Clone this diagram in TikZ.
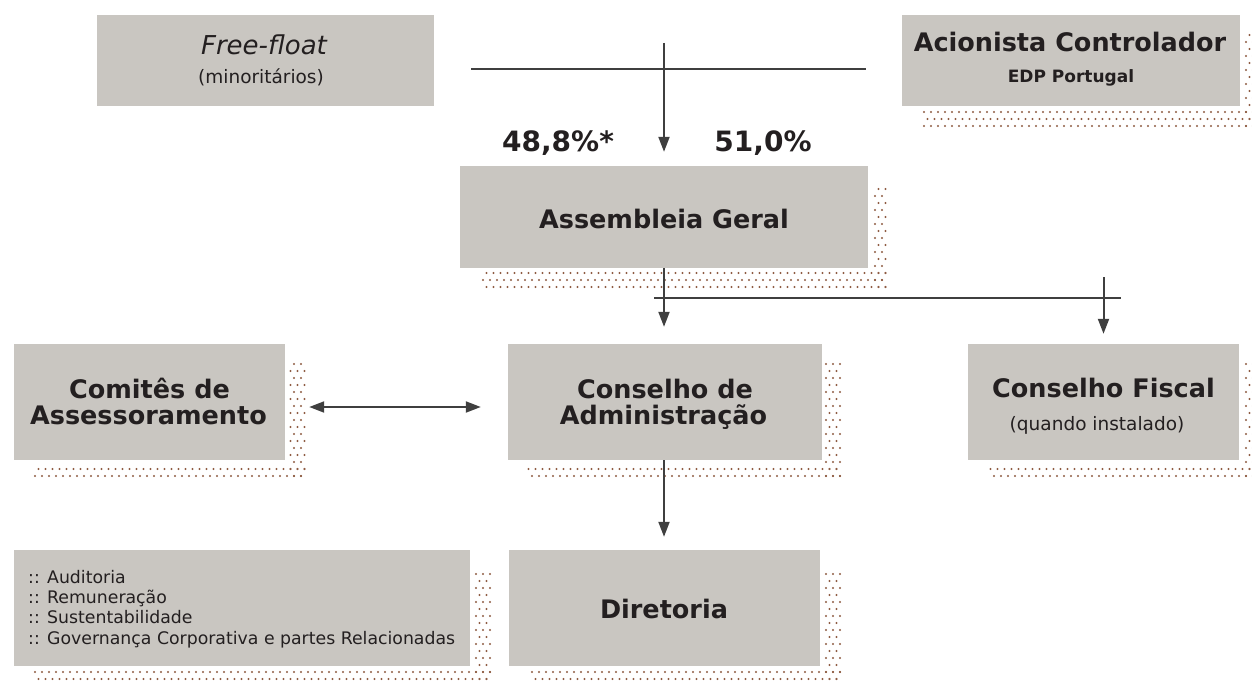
\documentclass[tikz,border=0pt]{standalone}
\usepackage{fontspec}
\setmainfont{DejaVu Sans}
\usetikzlibrary{arrows.meta}
\definecolor{boxc}{HTML}{C9C6C1}
\definecolor{dotc}{HTML}{8E5B42}
\definecolor{linec}{HTML}{3F3F3F}
\definecolor{txtc}{HTML}{231F20}
% dots on a staggered grid inside a strip: xa ya xb yb (px, y downwards)
\newcommand\dotstrip[4]{%
  \pgfmathtruncatemacro\dja{ceil(#2/7)}%
  \pgfmathtruncatemacro\djb{floor(#4/7)}%
  \pgfmathtruncatemacro\dia{floor(#1/7)}%
  \pgfmathtruncatemacro\dib{floor(#3/7)+1}%
  \foreach \j in {\dja,...,\djb}{%
    \foreach \i in {\dia,...,\dib}{%
      \pgfmathsetmacro\ddx{7*\i+3.5*mod(\j,2)}%
      \ifdim\ddx pt<#1pt\else\ifdim\ddx pt>#3pt\else
        \fill[dotc] (\ddx,7*\j) circle[radius=1.15];
      \fi\fi
    }}}
% shadow of a box x1 y1 x2 y2
\newcommand\shadowfor[4]{%
  \pgfmathsetmacro\sxa{#3+4}\pgfmathsetmacro\sya{#2+20}%
  \pgfmathsetmacro\sxb{#3+20}\pgfmathsetmacro\syb{#4+20}%
  \dotstrip{\sxa}{\sya}{\sxb}{\syb}%
  \pgfmathsetmacro\sxa{#1+20}\pgfmathsetmacro\sya{#4+4}%
  \dotstrip{\sxa}{\sya}{\sxb}{\syb}}
\begin{document}
\begin{tikzpicture}[x=1pt,y=-1pt,
  box/.style={fill=boxc,draw=none,inner sep=0pt,anchor=center},
  ttl/.style={font=\fontsize{25.5}{27}\selectfont\bfseries,text=txtc,anchor=base,inner sep=0pt},
  pct/.style={font=\fontsize{28}{30}\selectfont\bfseries,text=txtc,anchor=base,inner sep=0pt},
  sub/.style={font=\fontsize{18.5}{20}\selectfont,text=txtc,anchor=base,inner sep=0pt},
  subb/.style={font=\fontsize{17}{20}\selectfont\bfseries,text=txtc,anchor=base,inner sep=0pt},
  lst/.style={font=\fontsize{17.3}{20}\selectfont,text=txtc,anchor=base west,inner sep=0pt},
  conn/.style={draw=linec,line width=2pt},
  arr/.style={conn,-{Triangle[length=15pt,width=11pt]}},
  darr/.style={conn,{Triangle[length=15pt,width=11pt]}-{Triangle[length=15pt,width=11pt]}}]
\useasboundingbox (0,0) rectangle (1252,682);
% shadows
\shadowfor{902}{15}{1240}{106}
\shadowfor{460}{166}{868}{268}
\shadowfor{14}{344}{285}{460}
\shadowfor{508}{344}{822}{460}
\shadowfor{968}{344}{1239}{460}
\shadowfor{14}{550}{470}{666}
\shadowfor{509}{550}{820}{666}
% boxes
\node[box,minimum width=337pt,minimum height=91pt] (FF) at (265.5,60.5) {};
\node[box,minimum width=338pt,minimum height=91pt] (AC) at (1071,60.5) {};
\node[box,minimum width=408pt,minimum height=102pt] (AG) at (664,217) {};
\node[box,minimum width=271pt,minimum height=116pt] (CA) at (149.5,402) {};
\node[box,minimum width=314pt,minimum height=116pt] (CD) at (665,402) {};
\node[box,minimum width=271pt,minimum height=116pt] (CF) at (1103.5,402) {};
\node[box,minimum width=456pt,minimum height=116pt] (AU) at (242,608) {};
\node[box,minimum width=311pt,minimum height=116pt] (DI) at (664.5,608) {};
% texts
\node[ttl,font=\fontsize{26}{28}\selectfont\itshape] (ffa) at (264,55) {Free-float};
\node[sub] (ffb) at (261,84) {(minoritários)};
\node[ttl] (aca) at (1070,52) {Acionista Controlador};
\node[subb] (acb) at (1071,83) {EDP Portugal};
\node[pct] (p1) at (558,151) {48,8\%*};
\node[pct] (p2) at (763,151) {51,0\%};
\node[ttl] (aga) at (664,228) {Assembleia Geral};
\node[ttl] (caa) at (149.5,398) {Comitês de};
\node[ttl] (cab) at (148.5,424) {Assessoramento};
\node[ttl] (cda) at (665,398) {Conselho de};
\node[ttl] (cdb) at (663.5,424) {Administração};
\node[ttl] (cfa) at (1103.5,397) {Conselho Fiscal};
\node[sub] (cfb) at (1097,430) {(quando instalado)};
\node[ttl] (dia) at (664,618) {Diretoria};
\node[lst] (l1) at (28,583) {:: Auditoria};
\node[lst] (l2) at (28,603.3) {:: Remuneração};
\node[lst] (l3) at (28,623.6) {:: Sustentabilidade};
\node[lst] (l4) at (28,644) {:: Governança Corporativa e partes Relacionadas};
% connectors
\coordinate (hl) at (471,69);
\coordinate (hr) at (866,69);
\coordinate (vt) at (664,43);
\draw[conn] (hl) -- (hr);
\draw[arr,shorten >=14pt] (vt) -- (AG.north);
\draw[arr,shorten >=17pt] (AG.south) -- (AG.south |- CD.north);
\coordinate (ml) at (654,298);
\coordinate (mr) at (1121,298);
\coordinate (rt) at (1103.5,277);
\draw[conn] (ml) -- (mr);
\draw[arr,shorten >=10pt] (rt) -- (CF.north);
\draw[darr,shorten <=24pt,shorten >=27pt] ([yshift=-5pt]CA.east) -- ([yshift=-5pt]CD.west);
\draw[arr,shorten >=13pt] (AG.south |- CD.south) -- (AG.south |- DI.north);
\end{tikzpicture}
\end{document}
